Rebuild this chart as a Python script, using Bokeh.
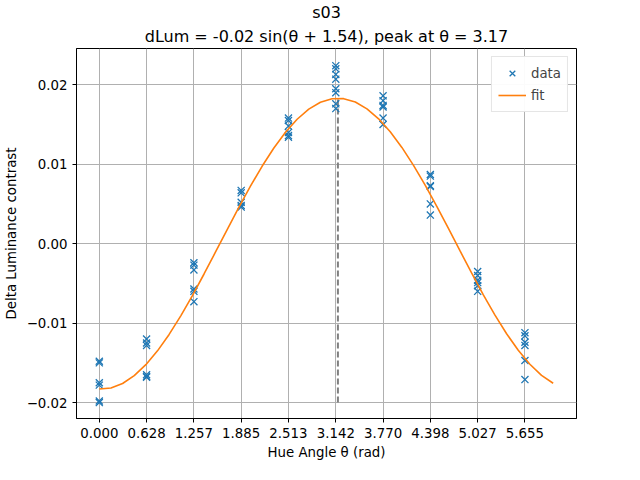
import numpy as np
from bokeh.plotting import figure
from bokeh.models import Title, Range1d, FixedTicker, Legend, LegendItem
from bokeh.embed import file_html
from bokeh.resources import INLINE

# measured hue angles (rad) and delta luminance contrast per angle
angles = [0.000, 0.628, 1.257, 1.885, 2.513, 3.142, 3.770, 4.398, 5.027, 5.655]
dlum = [
    [-0.0148, -0.0150, -0.0175, -0.0178, -0.0198, -0.0200],
    [-0.0120, -0.0125, -0.0128, -0.0165, -0.0167, -0.0168],
    [-0.0024, -0.0027, -0.0033, -0.0057, -0.0060, -0.0073],
    [0.0067, 0.0064, 0.0052, 0.0048, 0.0046],
    [0.0158, 0.0155, 0.0148, 0.0140, 0.0136, 0.0134],
    [0.0224, 0.0220, 0.0213, 0.0207, 0.0195, 0.0190, 0.0176, 0.0170],
    [0.0186, 0.0180, 0.0174, 0.0172, 0.0158, 0.0150],
    [0.0087, 0.0085, 0.0073, 0.0072, 0.0050, 0.0036],
    [-0.0035, -0.0040, -0.0046, -0.0049, -0.0053, -0.0060],
    [-0.0112, -0.0116, -0.0124, -0.0128, -0.0147, -0.0171],
]
tick_labels = ["0.000", "0.628", "1.257", "1.885", "2.513", "3.142",
               "3.770", "4.398", "5.027", "5.655"]

# fit parameters: dLum = amp * sin(theta + phase)
amp = -0.0183
phase = 1.54
peak = 3.17

xs = [a for a, vals in zip(angles, dlum) for _ in vals]
ys = [v for vals in dlum for v in vals]
fit_x = np.linspace(0, 6.03, 40)
fit_y = amp * np.sin(fit_x + phase)

p = figure(width=624, height=464, output_backend="svg", toolbar_location=None,
           x_range=Range1d(-0.303, 6.34), y_range=Range1d(-0.0220, 0.02456),
           min_border_left=72, min_border_right=48, min_border_top=4,
           min_border_bottom=46)

p.add_layout(Title(text="dLum = -0.02 sin(θ + 1.54), peak at θ = 3.17", align="center",
                   text_font_size="12pt", text_font_style="normal", standoff=6,
                   text_color="black", text_font="DejaVu Sans"), "above")
p.add_layout(Title(text="s03", align="center", text_font_size="12pt", standoff=0,
                   text_font_style="normal", text_color="black",
                   text_font="DejaVu Sans"), "above")

p.segment(x0=[peak], y0=[-0.02], x1=[peak], y1=[fit_y.max()],
          line_color="gray", line_width=2, line_dash="6 3")
r_data = p.scatter(xs, ys, marker="x", size=10, line_width=1.3, color="#1f77b4")
r_fit = p.line(fit_x, fit_y, line_color="#ff7f0e", line_width=1.6)

p.xaxis.ticker = FixedTicker(ticks=angles)
p.xaxis.major_label_overrides = {a: t for a, t in zip(angles, tick_labels)}
p.yaxis.ticker = FixedTicker(ticks=[-0.02, -0.01, 0.0, 0.01, 0.02])
p.yaxis.major_label_overrides = {-0.02: "\u22120.02", -0.01: "\u22120.01", 0.0: "0.00",
                                 0.01: "0.01", 0.02: "0.02"}
p.xaxis.axis_label = "Hue Angle θ (rad)"
p.yaxis.axis_label = "Delta Luminance contrast"
for ax in (p.xaxis, p.yaxis):
    ax.axis_label_text_font_style = "normal"
    ax.axis_label_text_font_size = "10pt"
    ax.axis_label_text_font = "DejaVu Sans"
    ax.axis_label_text_color = "black"
    ax.major_label_text_font = "DejaVu Sans"
    ax.major_label_text_font_size = "10pt"
    ax.major_label_text_color = "black"
    ax.minor_tick_line_color = None
    ax.major_tick_in = 0
    ax.major_tick_out = 4
    ax.axis_line_color = "black"
p.xaxis.axis_label_standoff = 4
p.yaxis.major_label_orientation = "horizontal"

p.grid.grid_line_color = "#b0b0b0"
p.grid.grid_line_width = 1
p.outline_line_color = "black"
p.background_fill_color = "white"

legend = Legend(items=[LegendItem(label="data", renderers=[r_data]),
                       LegendItem(label="fit", renderers=[r_fit])],
                location="top_right", label_text_font="DejaVu Sans",
                label_text_font_size="10pt", border_line_color="#cccccc",
                spacing=2, padding=6, margin=8, glyph_width=28)
p.add_layout(legend)

open("out.html", "w").write(file_html(p, INLINE))
